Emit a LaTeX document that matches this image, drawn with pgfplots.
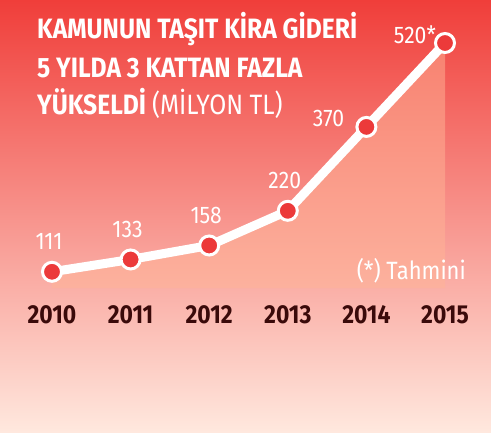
\documentclass[border=0pt]{standalone}
\usepackage{pgfplots}
\pgfplotsset{compat=1.18}
\usepackage{fontspec}
\setmainfont[FakeStretch=0.88]{Fira Sans}

\definecolor{bgtop}{RGB}{240,62,58}
\definecolor{bgmid}{RGB}{243,98,78}
\definecolor{bgbot}{RGB}{255,232,222}
\definecolor{areafill}{RGB}{255,180,150}
\definecolor{markred}{RGB}{236,58,58}
\definecolor{yeardark}{RGB}{58,10,10}

\begin{document}
\begin{tikzpicture}[x=1pt,y=1pt]
  % background
  \shade[top color=bgtop, middle color=bgmid, bottom color=bgbot] (0,0) rectangle (491,432);

  \begin{axis}[
    at={(52pt,144pt)}, anchor=south west,
    scale only axis,
    width=393pt, height=245pt,
    xmin=2010, xmax=2015,
    ymin=82, ymax=520,
    clip=false,
    axis line style={draw=none},
    tick style={draw=none},
    ytick=\empty,
    xtick={2010,2011,2012,2013,2014,2015},
    xticklabels={2010,2011,2012,2013,2014,2015},
    xticklabel style={anchor=base, yshift=-35pt, font=\fontsize{26}{26}\selectfont\bfseries, text=yeardark},
    ]

    % light area under the line
    \addplot[draw=none, fill=areafill, fill opacity=0.5] coordinates {
      (2010,111) (2011,133) (2012,158) (2013,220) (2014,370) (2015,520)
    } \closedcycle;

    % line with markers
    \addplot[white, line width=9pt, mark=*, mark size=9.5pt,
      mark options={fill=markred, draw=white, line width=3pt}] coordinates {
      (2010,111) (2011,133) (2012,158) (2013,220) (2014,370) (2015,520)
    };

    % value labels above
    \addplot[draw=none, mark=none, nodes near coords, point meta=explicit symbolic,
      nodes near coords style={anchor=base, xshift=-3pt, yshift=22pt, inner sep=0pt,
        text=white, font=\fontsize{24}{24}\selectfont}] coordinates {
      (2010,111) [111]
      (2011,133) [133]
      (2012,158) [158]
      (2013,220) [220]
    };
    % value labels left
    \addplot[draw=none, mark=none, nodes near coords, point meta=explicit symbolic,
      nodes near coords style={anchor=base east, xshift=-22pt, yshift=0pt, inner sep=0pt,
        text=white, font=\fontsize{24}{24}\selectfont}] coordinates {
      (2014,370) [370]
    };
    \addplot[draw=none, mark=none, nodes near coords, point meta=explicit symbolic,
      nodes near coords style={anchor=base east, xshift=-9pt, yshift=0pt, inner sep=0pt,
        text=white, font=\fontsize{24}{24}\selectfont}] coordinates {
      (2015,520) [520*]
    };
  \end{axis}

  % title
  \begin{scope}[every node/.style={anchor=base west, inner sep=0pt, text=white}]
    \node at (37,393) {\fontsize{28}{28}\selectfont\bfseries KAMUNUN TAŞIT KİRA GİDERİ};
    \node at (37,354) {\fontsize{28}{28}\selectfont\bfseries 5 YILDA 3 KATTAN FAZLA};
    \node at (37,317) {\fontsize{28}{28}\selectfont\bfseries YÜKSELDİ \mdseries(MİLYON TL)};
  \end{scope}
  \node[anchor=base east, inner sep=0pt, text=white] at (466,152) {\fontsize{25}{25}\selectfont (*) Tahmini};
\end{tikzpicture}
\end{document}
